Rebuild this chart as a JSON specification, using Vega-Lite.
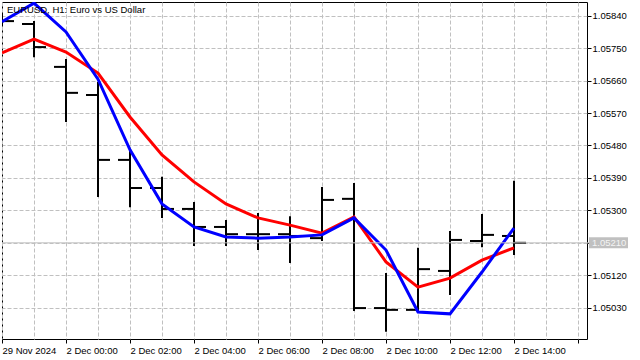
{
  "$schema": "https://vega.github.io/schema/vega-lite/v6.json",
  "width": 585,
  "height": 337,
  "autosize": "none",
  "padding": {"left": 2, "top": 2, "right": 53, "bottom": 21},
  "background": "white",
  "config": {
    "view": {"stroke": "black", "strokeWidth": 1},
    "font": "Liberation Sans",
    "axis": {"labelFont": "Liberation Sans", "labelFontSize": 9.5, "labelColor": "black", "tickColor": "black", "domain": false, "gridColor": "#c0c0c0", "gridDash": [4, 2], "gridWidth": 1, "gridOpacity": 1, "title": null, "labelOverlap": false, "labelFlush": false, "labelBound": false}
  },
  "title": {"text": "EURUSD, H1:  Euro vs US Dollar", "anchor": "start", "frame": "group", "orient": "top", "offset": -12, "dx": 5, "font": "Liberation Sans", "fontSize": 9.5, "fontWeight": "normal", "color": "black"},
  "datasets": {
    "bars": [
      {"i": 0, "time": "29 Nov 22:00", "open": 1.05830, "high": 1.05845, "low": 1.05812, "close": 1.05825, "fast": 1.05823, "slow": 1.05737},
      {"i": 1, "time": "29 Nov 23:00", "open": 1.05817, "high": 1.05825, "low": 1.05725, "close": 1.05753, "fast": 1.05875, "slow": 1.05775},
      {"i": 2, "time": "2 Dec 00:00", "open": 1.05698, "high": 1.05720, "low": 1.05545, "close": 1.05626, "fast": 1.05795, "slow": 1.05739},
      {"i": 3, "time": "2 Dec 01:00", "open": 1.05620, "high": 1.05656, "low": 1.05337, "close": 1.05440, "fast": 1.05664, "slow": 1.05681},
      {"i": 4, "time": "2 Dec 02:00", "open": 1.05440, "high": 1.05465, "low": 1.05309, "close": 1.05362, "fast": 1.05468, "slow": 1.05559},
      {"i": 5, "time": "2 Dec 03:00", "open": 1.05362, "high": 1.05393, "low": 1.05279, "close": 1.05304, "fast": 1.05318, "slow": 1.05454},
      {"i": 6, "time": "2 Dec 04:00", "open": 1.05304, "high": 1.05323, "low": 1.05201, "close": 1.05254, "fast": 1.05254, "slow": 1.05379},
      {"i": 7, "time": "2 Dec 05:00", "open": 1.05254, "high": 1.05273, "low": 1.05201, "close": 1.05234, "fast": 1.05226, "slow": 1.05318},
      {"i": 8, "time": "2 Dec 06:00", "open": 1.05234, "high": 1.05293, "low": 1.05190, "close": 1.05234, "fast": 1.05223, "slow": 1.05279},
      {"i": 9, "time": "2 Dec 07:00", "open": 1.05234, "high": 1.05284, "low": 1.05154, "close": 1.05229, "fast": 1.05226, "slow": 1.05259},
      {"i": 10, "time": "2 Dec 08:00", "open": 1.05223, "high": 1.05365, "low": 1.05215, "close": 1.05329, "fast": 1.05232, "slow": 1.05237},
      {"i": 11, "time": "2 Dec 09:00", "open": 1.05332, "high": 1.05376, "low": 1.05021, "close": 1.05029, "fast": 1.05279, "slow": 1.05282},
      {"i": 12, "time": "2 Dec 10:00", "open": 1.05029, "high": 1.05126, "low": 1.04963, "close": 1.05024, "fast": 1.05190, "slow": 1.05157},
      {"i": 13, "time": "2 Dec 11:00", "open": 1.05024, "high": 1.05196, "low": 1.05018, "close": 1.05137, "fast": 1.05018, "slow": 1.05087},
      {"i": 14, "time": "2 Dec 12:00", "open": 1.05132, "high": 1.05243, "low": 1.05065, "close": 1.05218, "fast": 1.05013, "slow": 1.05112},
      {"i": 15, "time": "2 Dec 13:00", "open": 1.05215, "high": 1.05290, "low": 1.05198, "close": 1.05232, "fast": 1.05129, "slow": 1.05162},
      {"i": 16, "time": "2 Dec 14:00", "open": 1.05229, "high": 1.05382, "low": 1.05176, "close": 1.05210, "fast": 1.05251, "slow": 1.05196}
    ],
    "bid": [{"price": 1.0521, "label": "1.05210"}]
  },
  "layer": [
    {
      "data": {"name": "bars"},
      "mark": {"type": "rule", "color": "black", "strokeWidth": 2, "clip": true},
      "encoding": {
        "x": {"field": "i", "type": "quantitative",
          "scale": {"domain": [0, 18.28125], "nice": false, "zero": false},
          "axis": {"values": [0, 1, 2, 3, 4, 5, 6, 7, 8, 9, 10, 11, 12, 13, 14, 15, 16, 17, 18], "tickCount": 40,
            "grid": true, "labelAlign": "left", "tickSize": 4, "labelPadding": 2,
            "tickOpacity": {"condition": {"test": "datum.value % 2 == 0", "value": 1}, "value": 0},
            "labelExpr": "datum.value % 2 == 0 ? ['29 Nov 2024','2 Dec 00:00','2 Dec 02:00','2 Dec 04:00','2 Dec 06:00','2 Dec 08:00','2 Dec 10:00','2 Dec 12:00','2 Dec 14:00','',''][datum.value / 2] : ''"}},
        "y": {"field": "high", "type": "quantitative",
          "scale": {"domain": [1.049432, 1.05878], "nice": false, "zero": false},
          "axis": {"orient": "right", "values": [1.0503, 1.0512, 1.0521, 1.053, 1.0539, 1.0548, 1.0557, 1.0566, 1.0575, 1.0584], "tickCount": 40,
            "format": ".5f", "grid": true, "tickSize": 4, "labelPadding": 1, "labelAlign": "left", "labelBaseline": "middle"}},
        "y2": {"field": "low"}
      }
    },
    {
      "data": {"name": "bars"},
      "mark": {"type": "tick", "orient": "horizontal", "color": "black", "size": 12, "thickness": 2, "xOffset": -6, "opacity": 1, "clip": true},
      "encoding": {"x": {"field": "i", "type": "quantitative"}, "y": {"field": "open", "type": "quantitative"}}
    },
    {
      "data": {"name": "bars"},
      "mark": {"type": "tick", "orient": "horizontal", "color": "black", "size": 12, "thickness": 2, "xOffset": 6, "opacity": 1, "clip": true},
      "encoding": {"x": {"field": "i", "type": "quantitative"}, "y": {"field": "close", "type": "quantitative"}}
    },
    {
      "data": {"name": "bars"},
      "mark": {"type": "line", "color": "#ff0000", "strokeWidth": 3, "clip": true},
      "encoding": {"x": {"field": "i", "type": "quantitative"}, "y": {"field": "slow", "type": "quantitative"}}
    },
    {
      "data": {"name": "bars"},
      "mark": {"type": "line", "color": "#0000ff", "strokeWidth": 3, "clip": true},
      "encoding": {"x": {"field": "i", "type": "quantitative"}, "y": {"field": "fast", "type": "quantitative"}}
    },
    {
      "data": {"name": "bid"},
      "mark": {"type": "rule", "color": "#c0c0c0", "strokeWidth": 1},
      "encoding": {
        "x": {"datum": 0, "type": "quantitative"},
        "x2": {"datum": 18.34375},
        "y": {"field": "price", "type": "quantitative"}
      }
    },
    {
      "data": {"name": "bid"},
      "mark": {"type": "rect", "color": "#c0c0c0", "height": 11},
      "encoding": {
        "x": {"datum": 18.34375, "type": "quantitative"},
        "x2": {"datum": 19.5625},
        "y": {"field": "price", "type": "quantitative"}
      }
    },
    {
      "data": {"name": "bid"},
      "mark": {"type": "text", "color": "#f4f4f4", "align": "left", "baseline": "middle", "font": "Liberation Sans", "fontSize": 9.5, "dx": 3},
      "encoding": {
        "x": {"datum": 18.34375, "type": "quantitative"},
        "y": {"field": "price", "type": "quantitative"},
        "text": {"field": "label"}
      }
    }
  ]
}
